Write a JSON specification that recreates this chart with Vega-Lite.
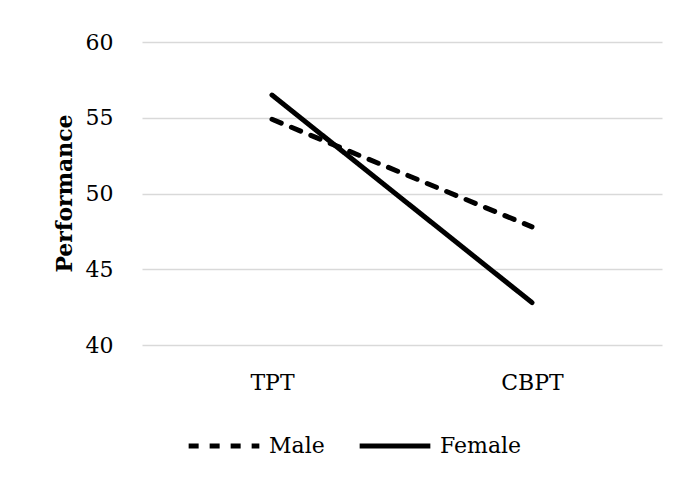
{
  "$schema": "https://vega.github.io/schema/vega-lite/v6.json",
  "autosize": {"type": "none"},
  "width": 520,
  "height": 303,
  "padding": {"left": 142, "top": 42, "right": 19, "bottom": 134},
  "background": "white",
  "data": {
    "values": [
      {"condition": "TPT", "gender": "Male", "performance": 54.9},
      {"condition": "CBPT", "gender": "Male", "performance": 47.8},
      {"condition": "TPT", "gender": "Female", "performance": 56.5},
      {"condition": "CBPT", "gender": "Female", "performance": 42.8}
    ]
  },
  "mark": {"type": "line", "stroke": "black", "strokeWidth": 5, "strokeCap": "round"},
  "encoding": {
    "x": {
      "field": "condition",
      "type": "nominal",
      "sort": ["TPT", "CBPT"],
      "scale": {"type": "point", "padding": 0.5},
      "axis": {
        "title": null,
        "labelAngle": 0,
        "labelFont": "DejaVu Serif",
        "labelFontSize": 22,
        "labelColor": "black",
        "labelPadding": 27,
        "ticks": false,
        "domain": false,
        "grid": false
      }
    },
    "y": {
      "field": "performance",
      "type": "quantitative",
      "scale": {"domain": [40, 60], "nice": false, "zero": false},
      "axis": {
        "title": "Performance",
        "titleFont": "DejaVu Serif",
        "titleFontSize": 22,
        "titleFontWeight": "bold",
        "titleColor": "black",
        "titleAngle": -90,
        "titleAlign": "center",
        "titleBaseline": "middle",
        "titleX": -78,
        "titleY": 151,
        "values": [40, 45, 50, 55, 60],
        "labelFont": "DejaVu Serif",
        "labelFontSize": 22,
        "labelColor": "black",
        "labelPadding": 29,
        "ticks": false,
        "domain": false,
        "grid": true,
        "gridColor": "#d9d9d9",
        "gridWidth": 1.5
      }
    },
    "strokeDash": {
      "field": "gender",
      "type": "nominal",
      "scale": {"domain": ["Male", "Female"], "range": [[10, 11], [1, 0]]},
      "legend": {
        "title": null,
        "orient": "none",
        "legendX": 44,
        "legendY": 366,
        "direction": "horizontal",
        "columns": 2,
        "padding": 0,
        "columnPadding": 24,
        "symbolType": "stroke",
        "symbolSize": 5000,
        "symbolStrokeWidth": 5,
        "symbolStrokeColor": "black",
        "labelFont": "DejaVu Serif",
        "labelFontSize": 22,
        "labelColor": "black",
        "labelOffset": 7,
        "labelLimit": 200
      }
    }
  },
  "config": {"view": {"stroke": null}}
}
